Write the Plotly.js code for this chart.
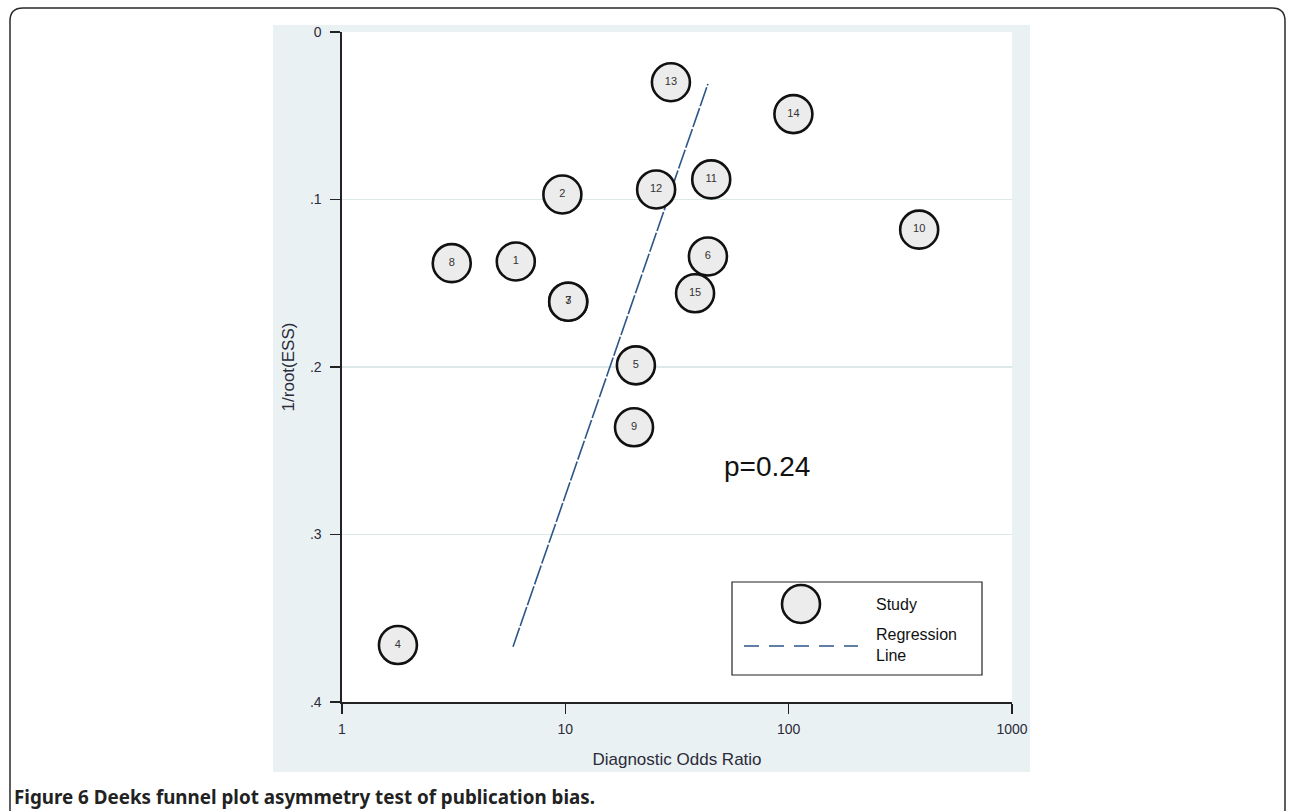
<!DOCTYPE html>
<html>
<head>
<meta charset="utf-8">
<script src="https://cdn.plot.ly/plotly-3.0.1.min.js"></script>
<style>
html,body{margin:0;padding:0;background:#fff;}
#chart{width:1292px;height:811px;}
</style>
</head>
<body>
<div id="chart"></div>
<script>
// Data
const studyLabels = ["1","2","3","4","5","6","7","8","9","10","11","12","13","14","15"];
const diagnosticOddsRatio = [6.0, 9.7, 10.3, 1.78, 20.7, 43.5, 10.3, 3.1, 20.3, 384, 45, 25.5, 29.7, 105, 38.1];
const invRootESS = [0.137, 0.097, 0.161, 0.366, 0.199, 0.134, 0.161, 0.138, 0.236, 0.118, 0.088, 0.094, 0.030, 0.049, 0.156];
const regressionX = [5.83, 43.5];
const regressionY = [0.367, 0.031];
const xTickVals = [1, 10, 100, 1000];
const xTickText = ["1", "10", "100", "1000"];
const yTickVals = [0, 0.1, 0.2, 0.3, 0.4];
const yTickText = ["0", ".1", ".2", ".3", ".4"];

// plot area in pixels
const L = 342, R = 1012, T = 32, B = 702;
const W = R - L, H = B - T;
const px = x => (x - L) / W;
const py = y => (B - y) / H;

const tickFont = {family: "Liberation Sans, Arial, sans-serif", size: 14, color: "#2b2b3a"};

const traces = [
  {
    x: regressionX, y: regressionY, mode: "lines", type: "scatter",
    line: {color: "#2c5687", width: 1.6, dash: "20px,2px"},
    hoverinfo: "skip", showlegend: false
  },
  {
    x: diagnosticOddsRatio, y: invRootESS, text: studyLabels,
    mode: "markers+text", type: "scatter",
    marker: {size: 38, color: "#ececec", line: {color: "#111", width: 2.6}},
    textposition: "middle center",
    textfont: {family: "Liberation Sans, Arial, sans-serif", size: 11, color: "#333"},
    showlegend: false
  }
];

const shapes = [
  // outer rounded frame
  {type: "path", xref: "paper", yref: "paper", layer: "below",
   path: `M ${px(10)},${py(830)} L ${px(10)},${py(21)} Q ${px(10)},${py(8)} ${px(23)},${py(8)} L ${px(1272)},${py(8)} Q ${px(1285)},${py(8)} ${px(1285)},${py(21)} L ${px(1285)},${py(830)}`,
   line: {color: "#2a2a2a", width: 1.5}},
  // grey graph region
  {type: "rect", xref: "paper", yref: "paper", layer: "below",
   x0: px(273), x1: px(1030), y0: py(772), y1: py(25),
   fillcolor: "#eaf1f3", line: {width: 0}},
  // white plot region
  {type: "rect", xref: "paper", yref: "paper", layer: "below",
   x0: 0, x1: 1, y0: 0, y1: 1,
   fillcolor: "#ffffff", line: {width: 0}},
  // legend box
  {type: "rect", xref: "paper", yref: "paper",
   x0: px(732), x1: px(982), y0: py(675), y1: py(582),
   fillcolor: "#ffffff", line: {color: "#222", width: 1.2}},
  // legend marker
  {type: "circle", xref: "paper", yref: "paper", xsizemode: "pixel", ysizemode: "pixel",
   xanchor: px(801), yanchor: py(604), x0: -19, x1: 19, y0: -19, y1: 19,
   fillcolor: "#ececec", line: {color: "#111", width: 2.6}},
  // legend dashed line
  {type: "line", xref: "paper", yref: "paper",
   x0: px(744), x1: px(858), y0: py(646), y1: py(646),
   line: {color: "#2c5687", width: 1.6, dash: "15px,10px"}}
];

const annotations = [
  {xref: "paper", yref: "paper", x: px(874), y: py(604), xanchor: "left", yanchor: "middle",
   text: "Study", showarrow: false,
   font: {family: "Liberation Sans, Arial, sans-serif", size: 16, color: "#111"}},
  {xref: "paper", yref: "paper", x: px(874), y: py(645), xanchor: "left", yanchor: "middle",
   text: "Regression<br>Line", showarrow: false, align: "left",
   font: {family: "Liberation Sans, Arial, sans-serif", size: 16, color: "#111"}},
  {xref: "paper", yref: "paper", x: px(767), y: py(466), xanchor: "center", yanchor: "middle",
   text: "p=0.24", showarrow: false,
   font: {family: "Liberation Sans, Arial, sans-serif", size: 28, color: "#111"}},
  {xref: "paper", yref: "paper", x: px(12), y: py(797), xanchor: "left", yanchor: "middle",
   text: "<b>Figure 6</b> <b style='font-weight:600'>Deeks funnel plot asymmetry test of publication bias.</b>", showarrow: false,
   font: {family: "Noto Sans, Open Sans, sans-serif", size: 18.8, color: "#222"}}
];

const layout = {
  width: 1292, height: 811,
  margin: {l: L, r: 1292 - R, t: T, b: 811 - B, pad: 0},
  paper_bgcolor: "#ffffff", plot_bgcolor: "rgba(0,0,0,0)",
  showlegend: false,
  xaxis: {
    type: "log", range: [0, 3],
    tickvals: xTickVals, ticktext: xTickText,
    ticks: "outside", ticklen: 10, tickwidth: 1.5, tickcolor: "#222",
    ticklabelstandoff: 4,
    showgrid: false, zeroline: false,
    showline: true, linecolor: "#222", linewidth: 1.6, mirror: false,
    tickfont: tickFont,
    title: {text: "Diagnostic Odds Ratio", standoff: 16,
            font: {family: "Liberation Sans, Arial, sans-serif", size: 17, color: "#2b2b3a"}}
  },
  yaxis: {
    range: [0.4, 0],
    tickvals: yTickVals, ticktext: yTickText,
    ticks: "outside", ticklen: 10, tickwidth: 1.5, tickcolor: "#222",
    ticklabelstandoff: 6,
    showgrid: true, gridcolor: "#dde9e9", gridwidth: 1.5,
    zeroline: false,
    showline: true, linecolor: "#222", linewidth: 1.6,
    tickfont: tickFont,
    title: {text: "1/root(ESS)", standoff: 11,
            font: {family: "Liberation Sans, Arial, sans-serif", size: 17, color: "#2b2b3a"}}
  },
  shapes: shapes,
  annotations: annotations
};

Plotly.newPlot("chart", traces, layout, {displayModeBar: false, staticPlot: true});
</script>
</body>
</html>
